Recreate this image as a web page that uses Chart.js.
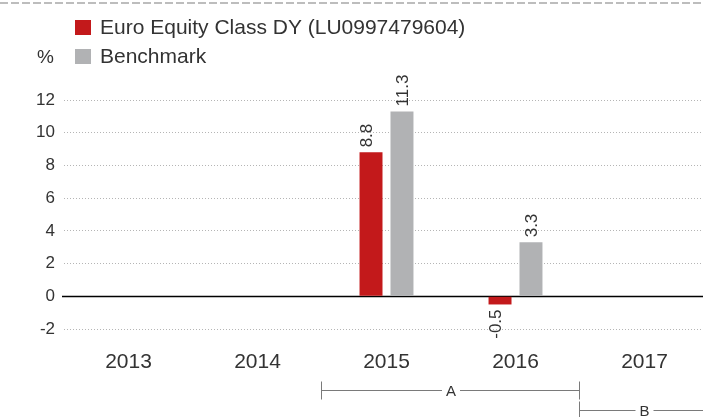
<!DOCTYPE html>
<html>
<head>
<meta charset="utf-8">
<script src="https://cdn.jsdelivr.net/npm/chart.js@4.4.0/dist/chart.umd.min.js"></script>
<style>
html, body { margin:0; padding:0; background:#fff; overflow:hidden; }
#wrap { position:relative; width:703px; height:417px; overflow:hidden; }
</style>
</head>
<body>
<div id="wrap"><canvas id="barcanvas" width="709" height="417"></canvas></div>
<script>
var years = ['2013', '2014', '2015', '2016', '2017'];
var fundName = 'Euro Equity Class DY (LU0997479604)';
var benchName = 'Benchmark';
var fundValues = [null, null, 8.8, -0.5, null];
var benchValues = [null, null, 11.3, 3.3, null];
var yMin = -2, yMax = 12, yStep = 2;
var unitLabel = '%';
var periodLabels = ['A', 'B'];
var periodStart = ['2015', '2017'];
var periodEnd = ['2016', '2017'];

var RED = '#c3191b';
var GREY = '#b1b2b4';
var TEXT = '#333333';
var FONT = "Helvetica, Arial, 'Liberation Sans', sans-serif";
var VISIBLE_W = 703;

var extras = {
	id: 'extras',
	beforeDatasetsDraw: function(chart) {
		var ctx = chart.ctx;
		var y0 = Math.round(chart.scales.y.getPixelForValue(0)) + 0.5;
		ctx.save();
		ctx.strokeStyle = '#000';
		ctx.lineWidth = 1.5;
		ctx.beginPath();
		ctx.moveTo(62, y0);
		ctx.lineTo(chart.width, y0);
		ctx.stroke();
		ctx.restore();
	},
	afterDraw: function(chart) {
		var ctx = chart.ctx;
		ctx.save();

		// dashed rule at top
		ctx.strokeStyle = '#bdbdbd';
		ctx.lineWidth = 2;
		ctx.setLineDash([8, 3]);
		ctx.beginPath();
		ctx.moveTo(0, 3);
		ctx.lineTo(chart.width, 3);
		ctx.stroke();
		ctx.setLineDash([]);

		// legend
		ctx.textBaseline = 'middle';
		ctx.textAlign = 'left';
		ctx.font = '21px ' + FONT;
		ctx.fillStyle = RED;
		ctx.fillRect(75, 20, 16, 15);
		ctx.fillStyle = TEXT;
		ctx.fillText(fundName, 100, 28);
		ctx.fillStyle = GREY;
		ctx.fillRect(75, 49, 16, 15);
		ctx.fillStyle = TEXT;
		ctx.fillText(benchName, 100, 57);
		ctx.font = '19px ' + FONT;
		ctx.fillText(unitLabel, 37, 58);

		// value labels
		ctx.font = '17px ' + FONT;
		var shifts = [-4, 1.5];
		chart.data.datasets.forEach(function(ds, di) {
			var meta = chart.getDatasetMeta(di);
			meta.data.forEach(function(bar, i) {
				var v = ds.data[i];
				if (v === null || v === undefined) return;
				ctx.save();
				ctx.translate(bar.x + shifts[di], v >= 0 ? bar.y - 5 : bar.y + 5);
				ctx.rotate(-Math.PI / 2);
				ctx.textAlign = v >= 0 ? 'left' : 'right';
				ctx.textBaseline = 'middle';
				ctx.fillStyle = TEXT;
				ctx.fillText(v.toFixed(1), 0, 0);
				ctx.restore();
			});
		});

		// period brackets
		var xs = chart.scales.x;
		var half = (xs.getPixelForValue(1) - xs.getPixelForValue(0)) / 2;
		ctx.strokeStyle = '#7a7a7a';
		ctx.lineWidth = 1;
		ctx.font = '15px ' + FONT;
		for (var p = 0; p < periodLabels.length; p++) {
			var a = xs.getPixelForValue(years.indexOf(periodStart[p])) - half;
			var b = xs.getPixelForValue(years.indexOf(periodEnd[p])) + half;
			var yl = 390.5 + p * 20;
			var left = Math.round(a) - 0.5;
			var right = Math.min(b, chart.width);
			ctx.beginPath();
			ctx.moveTo(left, yl);
			ctx.lineTo(right, yl);
			ctx.moveTo(left, yl - 9);
			ctx.lineTo(left, yl + 9);
			if (b < VISIBLE_W) {
				ctx.moveTo(Math.round(b) - 0.5, yl - 9);
				ctx.lineTo(Math.round(b) - 0.5, yl + 9);
			}
			ctx.stroke();
			var mid = (a + b) / 2;
			ctx.fillStyle = '#fff';
			ctx.fillRect(mid - 9, yl - 8, 18, 16);
			ctx.fillStyle = TEXT;
			ctx.textAlign = 'center';
			ctx.textBaseline = 'middle';
			ctx.fillText(periodLabels[p], mid, yl + 1);
		}
		ctx.restore();
	}
};

var chartdata = {
	labels: years,
	datasets: [
		{
			label: fundName,
			backgroundColor: RED,
			data: fundValues
		},
		{
			label: benchName,
			backgroundColor: GREY,
			data: benchValues
		}
	]
};

var ctx = document.getElementById('barcanvas');

var barGraph = new Chart(ctx, {
	type: 'bar',
	data: chartdata,
	plugins: [extras],
	options: {
		responsive: false,
		animation: false,
		layout: { padding: { top: 100, right: 0, bottom: 0, left: 0 } },
		datasets: {
			bar: { categoryPercentage: 0.48, barPercentage: 0.742 }
		},
		plugins: {
			legend: { display: false },
			tooltip: { enabled: false }
		},
		scales: {
			x: {
				grid: { display: false, drawTicks: false },
				border: { display: false },
				ticks: { color: TEXT, font: { family: FONT, size: 21 }, padding: 21, maxRotation: 0 },
				afterFit: function(scale) { scale.height = 88; }
			},
			y: {
				min: yMin,
				max: yMax,
				grid: {
					drawTicks: false,
					color: function(c) { return c.tick && c.tick.value === 0 ? 'rgba(0,0,0,0)' : '#b5b5b5'; }
				},
				border: { display: false, dash: [1, 2] },
				ticks: { stepSize: yStep, color: TEXT, font: { family: FONT, size: 17 }, padding: 9 },
				afterFit: function(scale) { scale.width = 64; }
			}
		}
	}
});
</script>
</body>
</html>
